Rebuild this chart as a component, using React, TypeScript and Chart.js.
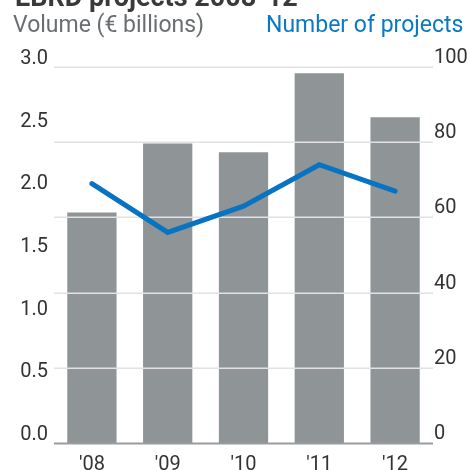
import React, { useEffect, useRef } from "react";
import { Chart, registerables } from "chart.js";

Chart.register(...registerables);

const categories = ["'08", "'09", "'10", "'11", "'12"];
const volumeBillions = [1.84, 2.39, 2.32, 2.95, 2.6];
const numberOfProjects = [69, 56, 63, 74, 67];
const titleText = "EBRD projects 2008-12";
const leftAxisTitle = "Volume (€ billions)";
const rightAxisTitle = "Number of projects";

const FONT = "Roboto, 'Noto Sans', sans-serif";

const gridOverBars = {
  id: "gridOverBars",
  afterDatasetDraw(chart: any, args: any) {
    if (args.index !== 0) return;
    const scale = chart.scales.y1;
    const area = chart.chartArea;
    const ctx = chart.ctx;
    ctx.save();
    scale.ticks.forEach((t: any) => {
      const y = Math.round(scale.getPixelForValue(t.value));
      ctx.beginPath();
      if (t.value === 0) {
        ctx.strokeStyle = "#9a9c9e";
        ctx.lineWidth = 2;
        ctx.moveTo(area.left, y + 0.5);
        ctx.lineTo(area.right, y + 0.5);
      } else {
        ctx.strokeStyle = "#e2e2e2";
        ctx.lineWidth = 1.5;
        ctx.moveTo(area.left, y + 0.25);
        ctx.lineTo(area.right, y + 0.25);
      }
      ctx.stroke();
    });
    ctx.restore();
  },
};

export default function App() {
  const ref = useRef<HTMLCanvasElement>(null);

  useEffect(() => {
    if (!ref.current) return;
    const chart = new Chart(ref.current, {
      type: "bar",
      data: {
        labels: categories,
        datasets: [
          {
            type: "bar",
            label: leftAxisTitle,
            data: volumeBillions,
            backgroundColor: "#8f9496",
            yAxisID: "y",
            order: 2,
            categoryPercentage: 1,
            barPercentage: 0.65,
          } as any,
          {
            type: "line",
            label: rightAxisTitle,
            data: numberOfProjects,
            borderColor: "#0873c2",
            borderWidth: 5,
            borderCapStyle: "round",
            borderJoinStyle: "miter",
            pointRadius: 0,
            tension: 0,
            yAxisID: "y1",
            order: 1,
          } as any,
        ],
      },
      options: {
        animation: false,
        responsive: false,
        layout: { padding: { top: 67, left: 0, right: 0, bottom: 0 } },
        plugins: {
          legend: { display: false },
          tooltip: { enabled: false },
          title: { display: false },
        },
        scales: {
          x: {
            grid: { display: false, drawTicks: false },
            border: { display: false },
            ticks: {
              font: { family: FONT, size: 20 },
              color: "#333333",
              padding: 10,
              maxRotation: 0,
            },
            afterFit: (s: any) => {
              s.height = 27;
            },
          },
          y: {
            position: "left",
            min: 0,
            max: 3,
            grid: { display: false, drawTicks: false },
            border: { display: false },
            ticks: {
              stepSize: 0.5,
              font: { family: FONT, size: 20 },
              color: "#333333",
              padding: 6,
              labelOffset: -8,
              callback: (v: any) => Number(v).toFixed(1),
            },
            afterFit: (s: any) => {
              s.width = 54;
            },
          },
          y1: {
            position: "right",
            min: 0,
            max: 100,
            grid: { display: false, drawTicks: false },
            border: { display: false },
            ticks: {
              stepSize: 20,
              font: { family: FONT, size: 20 },
              color: "#333333",
              padding: 1,
              labelOffset: -9,
            },
            afterFit: (s: any) => {
              s.width = 34;
            },
          },
        },
      } as any,
      plugins: [gridOverBars],
    });
    return () => chart.destroy();
  }, []);

  return (
    <div
      style={{
        position: "fixed",
        left: 0,
        top: 0,
        width: 467,
        height: 470,
        overflow: "hidden",
        background: "#ffffff",
      }}
    >
      <canvas
        ref={ref}
        width={467}
        height={470}
        style={{ position: "absolute", left: 0, top: 0, width: 467, height: 470 }}
      />
      <div
        style={{
          position: "absolute",
          left: 15,
          top: -15.7,
          fontFamily: FONT,
          fontWeight: "bold",
          fontSize: 27,
          lineHeight: "27px",
          color: "#3a3a3a",
          whiteSpace: "nowrap",
        }}
      >
        {titleText}
      </div>
      <div
        style={{
          position: "absolute",
          left: 13,
          top: 12.6,
          fontFamily: FONT,
          fontSize: 23,
          lineHeight: "23px",
          color: "#6b6e70",
          whiteSpace: "nowrap",
        }}
      >
        {leftAxisTitle}
      </div>
      <div
        style={{
          position: "absolute",
          left: 266,
          top: 12.6,
          fontFamily: FONT,
          fontSize: 23,
          lineHeight: "23px",
          color: "#0a79c4",
          whiteSpace: "nowrap",
        }}
      >
        {rightAxisTitle}
      </div>
    </div>
  );
}
